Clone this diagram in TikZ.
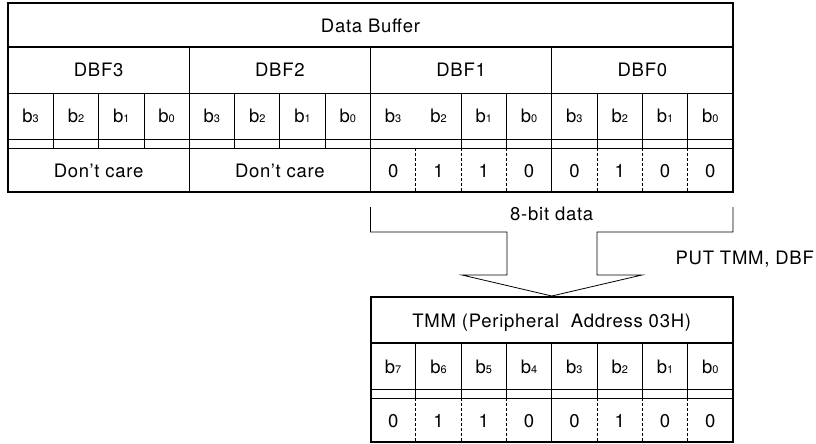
\documentclass[tikz,border=0pt]{standalone}
\usepackage{fontspec}
\setmainfont{TeX Gyre Heros}[LetterSpace=4]
\newcommand{\bsub}[1]{b{\fontsize{11}{11}\selectfont #1}}
\begin{document}
\begin{tikzpicture}[
        x=1pt, y=-1pt,
        frame/.style={line width=2pt},
        rule/.style={line width=0.8pt},
        dashrule/.style={line width=0.8pt, dash pattern=on 3pt off 2pt},
        every node/.style={font=\fontsize{18.5}{18.5}\selectfont, inner sep=0pt, anchor=base},
    ]
    \def\cw{45.3125}
    \useasboundingbox (0,0) rectangle (816,444);
    % data buffer
    \draw[frame] (8,3) rectangle (733,192);
    \draw[frame] (8,47) -- (733,47);
    \draw[rule] (8,93) -- (733,93);
    \draw[rule] (8,139) -- (733,139);
    \draw[rule] (8,148) -- (733,148);
    \foreach \j in {4,8,12}
        \draw[rule] (8+\j*\cw,47) -- (8+\j*\cw,192);
    \foreach \j in {1,2,3,5,6,7,10,11,13,14,15}
        \draw[rule] (8+\j*\cw,93) -- (8+\j*\cw,148);
    \foreach \j in {9,10,11,13,14,15}
        \draw[dashrule] (8+\j*\cw,148) -- (8+\j*\cw,192);
    \node (dbuf) at (370.5,33) {Data Buffer};
    \foreach \n [count=\k from 0] in {3,2,1,0}
        \node (dbf\n) at (8+4*\k*\cw+2*\cw,77) {DBF\n};
    \foreach \j in {0,...,15}{
        \pgfmathtruncatemacro{\d}{3-mod(\j,4)}
        \node (bit\j) at (8+\j*\cw+0.5*\cw,122) {\bsub{\d}};
    }
    \node (care3) at (8+2*\cw,177) {Don't care};
    \node (care2) at (8+6*\cw,177) {Don't care};
    \foreach \v [count=\k from 8] in {0,1,1,0,0,1,0,0}
        \node (val\k) at (8+\k*\cw+0.5*\cw,177) {\v};
    % transfer arrow
    \draw[rule] (370.5,207) -- (370.5,232) -- (507,232) -- (507,275) -- (462,275)
        -- (551.75,296) -- (642,275) -- (597,275) -- (597,232) -- (733,232) -- (733,207);
    \node (eight) at (551.75,220) {8-bit data};
    \node[anchor=base east] (put) at (814,264) {PUT TMM, DBF};
    % tmm register
    \draw[frame] (370.5,297) rectangle (733,442);
    \draw[frame] (370.5,343) -- (733,343);
    \draw[rule] (370.5,389) -- (733,389);
    \draw[rule] (370.5,398) -- (733,398);
    \foreach \j in {1,...,7}
        \draw[rule] (370.5+\j*\cw,343) -- (370.5+\j*\cw,398);
    \draw[rule] (370.5+4*\cw,398) -- (370.5+4*\cw,442);
    \foreach \j in {1,2,3,5,6,7}
        \draw[dashrule] (370.5+\j*\cw,398) -- (370.5+\j*\cw,442);
    \node (tmm) at (551.75,327) {TMM (Peripheral\ \ Address 03H)};
    \foreach \j in {0,...,7}{
        \pgfmathtruncatemacro{\d}{7-\j}
        \node (tbit\j) at (370.5+\j*\cw+0.5*\cw,373) {\bsub{\d}};
    }
    \foreach \v [count=\k from 0] in {0,1,1,0,0,1,0,0}
        \node (tval\k) at (370.5+\k*\cw+0.5*\cw,427) {\v};
\end{tikzpicture}
\end{document}
